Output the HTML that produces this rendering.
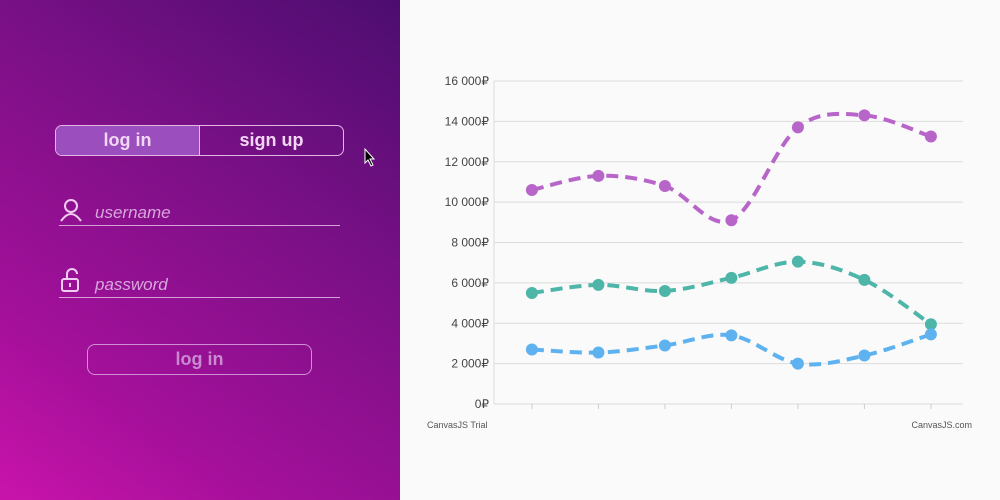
<!DOCTYPE html>
<html><head><meta charset="utf-8"><style>
body{margin:0;width:1000px;height:500px;overflow:hidden;font-family:"Liberation Sans",sans-serif;background:#fafafa;position:relative}
#left{position:absolute;left:0;top:0;width:400px;height:500px;background:linear-gradient(35deg,#c913aa 0%,#a3109a 25%,#7d1087 60%,#4c0d70 100%)}
.tabs{position:absolute;left:55px;top:125px;width:287px;height:29px;border:1px solid #e3b6e6;border-radius:7px;overflow:hidden;display:flex}
.tabs div{flex:1;text-align:center;line-height:29px;font-weight:bold;font-size:18px;color:#f1d7f3}
.tabs .on{background:#9b4ebd;border-right:1px solid #e3b6e6}
.field{position:absolute;left:59px;width:281px;height:26px;border-bottom:1px solid #d8a0d8}
.field span{position:absolute;left:36px;top:4px;font-style:italic;font-size:17px;color:#d9a6dc}
.btn{position:absolute;left:87px;top:344px;width:223px;height:29px;border:1px solid #cf8fd2;border-radius:8px;text-align:center;line-height:29px;font-weight:bold;font-size:18px;color:#c98ad0}
svg text{font-family:"Liberation Sans",sans-serif}
</style></head><body>
<div id="left">
 <div class="tabs">
  <div class="on">log in</div>
  <div>sign up</div>
 </div>
 <div class="field" style="top:199px">
  <svg width="26" height="26" style="position:absolute;left:0;top:-2px"><circle cx="12" cy="9" r="6" fill="none" stroke="#f0cdf2" stroke-width="2"/><path d="M2 24 Q12 10 22 24" fill="none" stroke="#f0cdf2" stroke-width="2"/></svg>
  <span>username</span></div>
 <div class="field" style="top:271px">
  <svg width="26" height="26" style="position:absolute;left:0;top:-4px"><path d="M8 12 V7 a5 5 0 0 1 10 0" fill="none" stroke="#f0cdf2" stroke-width="2"/><rect x="3" y="12" width="16" height="12" rx="2" fill="none" stroke="#f0cdf2" stroke-width="2"/><rect x="10" y="16" width="2" height="4" fill="#f0cdf2"/></svg>
  <span>password</span></div>
 <div class="btn">log in</div>
</div>
<svg width="12" height="20" style="position:absolute;left:364px;top:148px"><path d="M1 1 L1 15 L4 12 L7 18 L9 17 L6 11 L10 11 Z" fill="#000" stroke="#fff" stroke-width="1"/></svg>
<svg id="chart" width="600" height="500" style="position:absolute;left:400px;top:0"></svg>
<script>
const categories=[0,1,2,3,4,5,6];
const seriesPurple=[10600,11300,10800,9100,13700,14300,13250];
const seriesTeal=[5500,5900,5600,6250,7050,6150,3950];
const seriesBlue=[2700,2550,2900,3400,2000,2400,3450];
const yTicks=[0,2000,4000,6000,8000,10000,12000,14000,16000];
const yTickLabels=["0₽","2 000₽","4 000₽","6 000₽","8 000₽","10 000₽","12 000₽","14 000₽","16 000₽"];
const svg=document.getElementById('chart');const NS='http://www.w3.org/2000/svg';
const X=i=>94+(i+0.57)*66.5;
const Y=v=>404-v*(323/16000);
function mk(t,a,parent){const e=document.createElementNS(NS,t);for(const k in a)e.setAttribute(k,a[k]);(parent||svg).appendChild(e);return e;}
yTicks.forEach((t,i)=>{
 const g=mk('line',{x1:94,x2:563,y1:Y(t),y2:Y(t),stroke:'#dcdcdc','stroke-width':1});
 
 
 const l=mk('text',{x:89,y:Y(t)+4,'text-anchor':'end','font-size':12,fill:'#444'});l.textContent=yTickLabels[i];
 
 
});
const ax=mk('line',{x1:94,x2:94,y1:81,y2:404,stroke:'#dcdcdc'});


categories.forEach(c=>{const t=mk('line',{x1:X(c),x2:X(c),y1:404,y2:409,stroke:'#ccc'});
 
 });
function path(vals){const p=vals.map((v,i)=>[X(categories[i]),Y(v)]);let d=`M${p[0][0]},${p[0][1]}`;
 for(let i=0;i<p.length-1;i++){const p0=p[Math.max(i-1,0)],p1=p[i],p2=p[i+1],p3=p[Math.min(i+2,p.length-1)];
 d+=` C${p1[0]+(p2[0]-p0[0])/6},${p1[1]+(p2[1]-p0[1])/6} ${p2[0]-(p3[0]-p1[0])/6},${p2[1]-(p3[1]-p1[1])/6} ${p2[0]},${p2[1]}`;}return d;}
[[seriesPurple,'#b865c9','purple'],[seriesTeal,'#4eb5a9','teal'],[seriesBlue,'#5eb2ef','blue']].forEach(([vals,col,n])=>{
 const l=mk('path',{d:path(vals),fill:'none',stroke:col,'stroke-width':4,'stroke-dasharray':'12 7'});
 
 
 vals.forEach((v,i)=>{const c=mk('circle',{cx:X(categories[i]),cy:Y(v),r:6,fill:col});
  
  });
});
const w1=mk('text',{x:27,y:428,'font-size':9,fill:'#555'});w1.textContent='CanvasJS Trial';


const w2=mk('text',{x:572,y:428,'font-size':9,fill:'#555','text-anchor':'end'});w2.textContent='CanvasJS.com';


</script>
</body></html>
